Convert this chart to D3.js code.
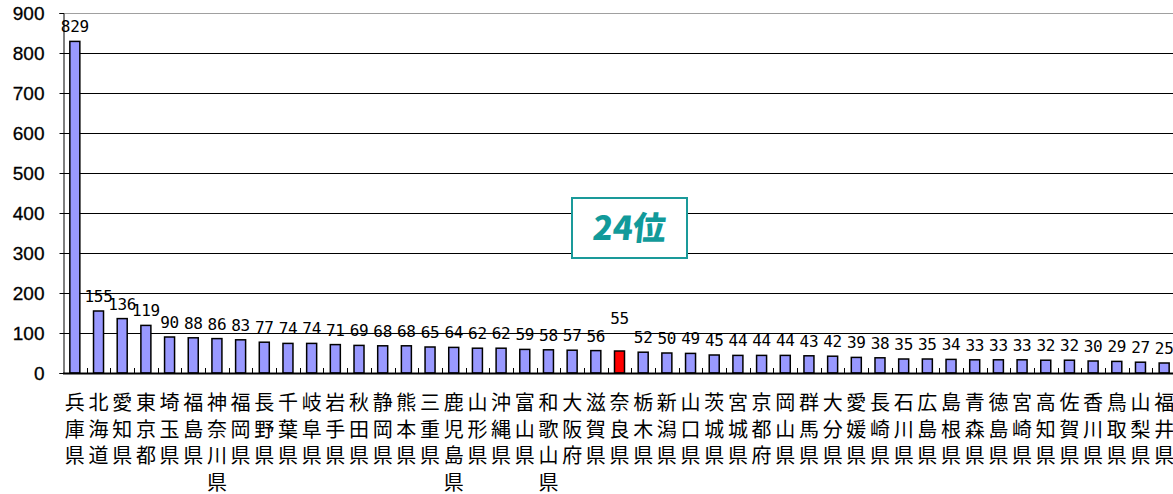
<!DOCTYPE html>
<html><head><meta charset="utf-8">
<script src="https://cdn.jsdelivr.net/npm/d3@7"></script>
<style>body{margin:0;background:#fff}svg{display:block}</style>
</head><body>
<svg id="c" width="1173" height="494"></svg>
<script>
const prefectures = ["兵庫県","北海道","愛知県","東京都","埼玉県","福島県","神奈川県","福岡県","長野県","千葉県","岐阜県","岩手県","秋田県","静岡県","熊本県","三重県","鹿児島県","山形県","沖縄県","富山県","和歌山県","大阪府","滋賀県","奈良県","栃木県","新潟県","山口県","茨城県","宮城県","京都府","岡山県","群馬県","大分県","愛媛県","長崎県","石川県","広島県","島根県","青森県","徳島県","宮崎県","高知県","佐賀県","香川県","鳥取県","山梨県","福井県"];
const values = [829,155,136,119,90,88,86,83,77,74,74,71,69,68,68,65,64,62,62,59,58,57,56,55,52,50,49,45,44,44,44,43,42,39,38,35,35,34,33,33,33,32,32,30,29,27,25];
const yTicks = [0,100,200,300,400,500,600,700,800,900];
const highlight = "奈良県";
const rankLabel = "24位";

(function () {
const svg = d3.select("#c");
const pL = 63, pR = 1176, pT = 13, pB = 373;
const x = d3.scaleBand().domain(prefectures).range([pL, pR]).padding(0);
const y = d3.scaleLinear().domain([0, 900]).range([pB, pT]);
const barW = 10;

svg.append("g").selectAll("line").data(yTicks.filter(d => d > 0)).join("line")
  .attr("x1", pL).attr("x2", pR)
  .attr("y1", d => Math.round(y(d)) + 0.5).attr("y2", d => Math.round(y(d)) + 0.5)
  .attr("stroke", d => d === 900 ? "#a0a0a0" : "#000").attr("stroke-width", 1);

const yAxis = svg.append("g").attr("transform", `translate(${pL + 0.5},0)`)
  .call(d3.axisLeft(y).tickValues(yTicks).tickSize(4).tickPadding(15));
yAxis.select(".domain").attr("stroke", "#000");
yAxis.selectAll("text").attr("font-family", "'Liberation Sans', Arial, sans-serif")
  .attr("font-size", 19).attr("fill", "#000")
  .attr("stroke", "#000").attr("stroke-width", 0.3);

svg.append("g").selectAll("rect").data(prefectures).join("rect")
  .attr("x", (d) => x(d) + x.bandwidth() / 2 - barW / 2)
  .attr("width", barW)
  .attr("y", (d, i) => y(values[i]))
  .attr("height", (d, i) => y(0) - y(values[i]))
  .attr("fill", d => d === highlight ? "#ff0000" : "#9999ff")
  .attr("stroke", "#000").attr("stroke-width", 1.5);

svg.append("line").attr("x1", pL).attr("x2", pR)
  .attr("y1", pB + 0.5).attr("y2", pB + 0.5).attr("stroke", "#000").attr("stroke-width", 2);
svg.append("g").selectAll("line").data(prefectures).join("line")
  .attr("x1", d => Math.round(x(d) + x.bandwidth()) + 0.5)
  .attr("x2", d => Math.round(x(d) + x.bandwidth()) + 0.5)
  .attr("y1", pB).attr("y2", pB - 5).attr("stroke", "#000");

svg.append("g").selectAll("text").data(prefectures).join("text")
  .attr("x", d => x(d) + x.bandwidth() / 2)
  .attr("y", (d, i) => y(values[i]) - (d === highlight ? 27 : 9))
  .attr("text-anchor", "middle")
  .attr("font-family", "'DejaVu Sans Mono', 'Noto Sans CJK JP', monospace")
  .attr("font-size", 16).attr("fill", "#000")
  .attr("letter-spacing", -0.3)
  .text((d, i) => values[i]);

const cat = svg.append("g").selectAll("g").data(prefectures).join("g")
  .attr("transform", d => `translate(${x(d) + x.bandwidth() / 2},0)`);
cat.selectAll("text").data(d => Array.from(d)).join("text")
  .attr("x", 0).attr("y", (c, j) => 410 + j * 26.5)
  .attr("text-anchor", "middle")
  .attr("font-family", "'Noto Sans CJK JP', sans-serif")
  .attr("font-size", 20).attr("fill", "#000")
  .text(c => c);

const bx = 572, by = 198, bw = 115, bh = 60;
svg.append("rect").attr("x", bx).attr("y", by).attr("width", bw).attr("height", bh)
  .attr("fill", "#fff").attr("stroke", "#1a9a9a").attr("stroke-width", 2);
svg.append("text").attr("x", bx + bw / 2).attr("y", by + bh / 2 + 12)
  .attr("text-anchor", "middle")
  .attr("font-family", "'Noto Sans CJK JP', sans-serif")
  .attr("font-weight", 900).attr("font-size", 33).attr("fill", "#119a9a")
  .attr("transform", `skewX(-6)`).attr("transform-origin", `${bx + bw/2} ${by + bh/2}`)
  .text(rankLabel);
})();
</script>
</body></html>
